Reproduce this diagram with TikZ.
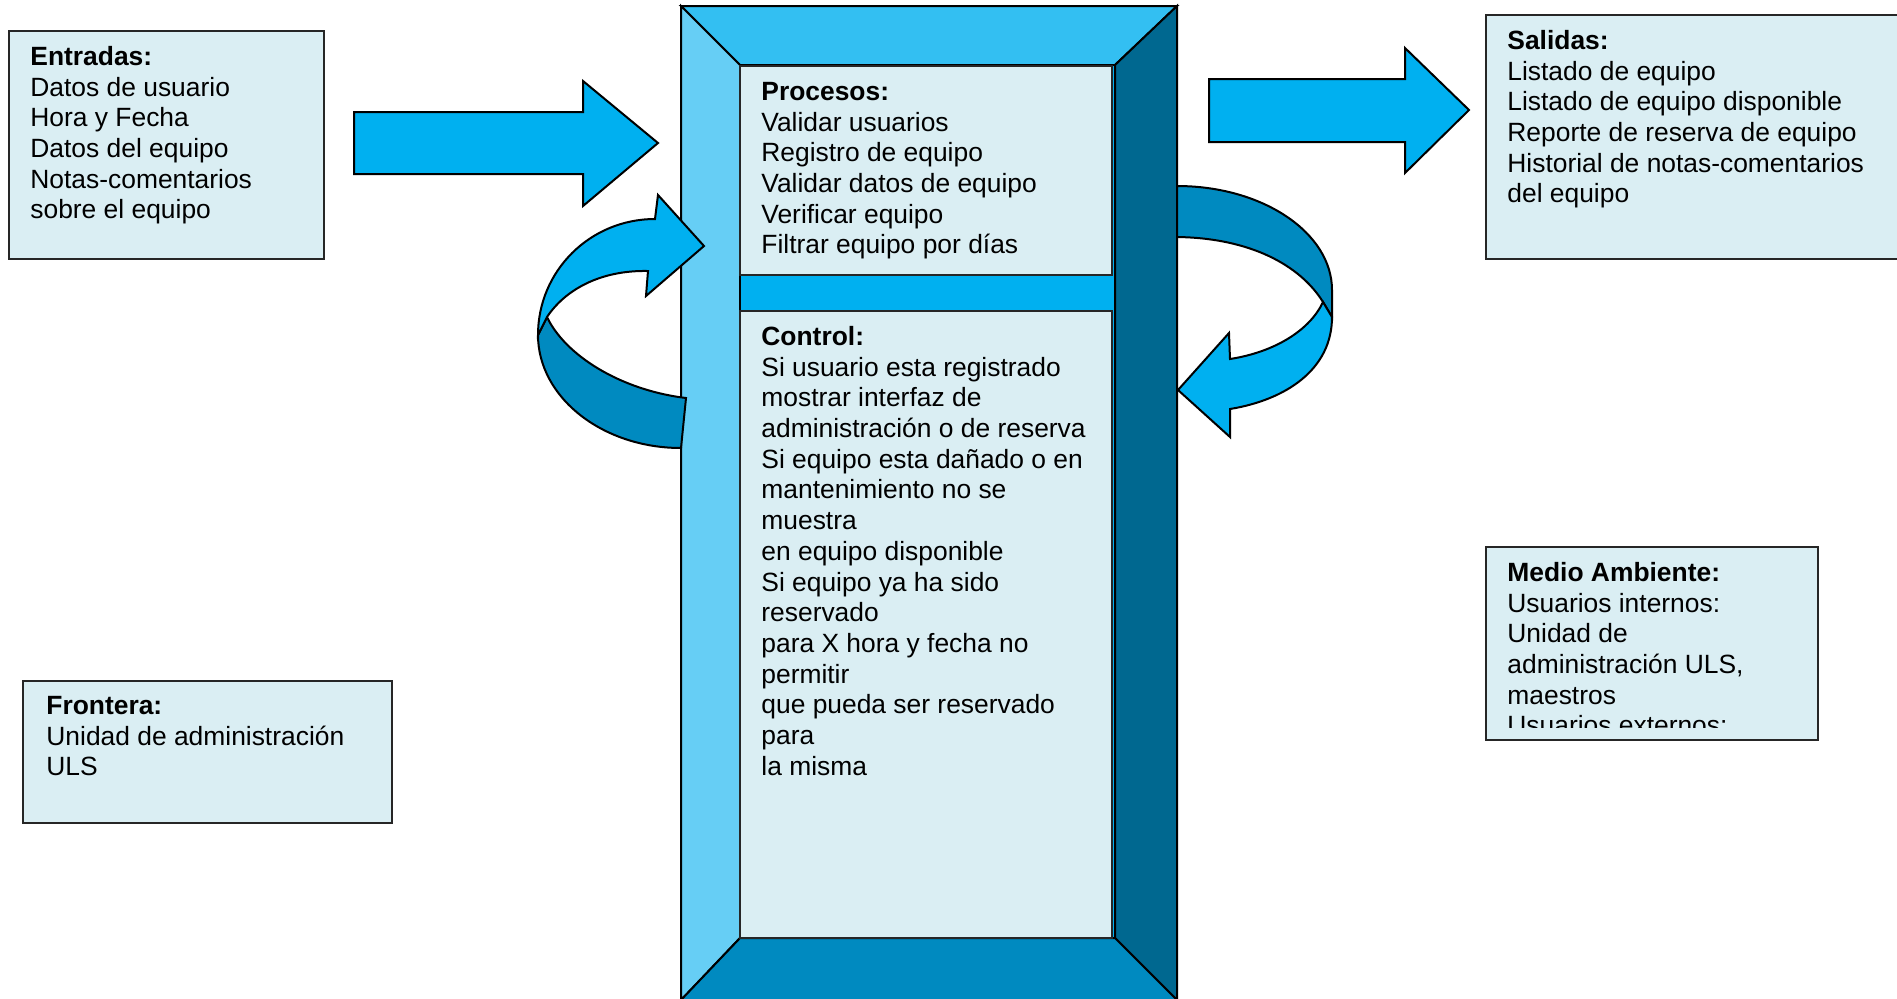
\documentclass[tikz,border=0pt]{standalone}
\usepackage{fontspec}
\setmainfont{Liberation Sans}
\definecolor{brt}{HTML}{00B0F0}
\definecolor{drk}{HTML}{008AC0}
\definecolor{topface}{HTML}{33BFF2}
\definecolor{leftface}{HTML}{66CEF5}
\definecolor{rightface}{HTML}{006890}
\definecolor{botface}{HTML}{008AC0}
\definecolor{boxfill}{HTML}{DAEEF3}
\begin{document}
\begin{tikzpicture}[x=0.5pt,y=-0.5pt,line join=miter,
  txt/.style={anchor=north west,inner sep=0pt,align=left,font=\fontsize{13.2}{15.35}\selectfont},
  boxst/.style={fill=boxfill,draw=black!85,line width=1pt},
  shp/.style={draw=black,line width=1pt}]
\useasboundingbox (0,0) rectangle (1897,998);
\fill[white] (0,0) rectangle (1897,998);

% central bevelled block
\path[shp,fill=topface] (681,6) -- (1177,6) -- (1115,65) -- (740,65) -- cycle;
\path[shp,fill=leftface] (681,6) -- (740,65) -- (740,938) -- (681,1000) -- cycle;
\path[shp,fill=rightface] (1177,6) -- (1177,1000) -- (1115,938) -- (1115,65) -- cycle;
\path[shp,fill=botface] (681,1000) -- (740,938) -- (1115,938) -- (1177,1000) -- cycle;
\path[shp,fill=brt] (740,65) rectangle (1115,938);

% inner text boxes
\draw[boxst] (740,66) rectangle (1112,275);
\draw[boxst] (740,311) rectangle (1112,938);
\node[txt] (procesos) at (761,78) {\rule{0pt}{11pt}\textbf{Procesos:}\\Validar usuarios\\Registro de equipo\\Validar datos de equipo\\Verificar equipo\\Filtrar equipo por días};
\node[txt] (control) at (761,323) {\rule{0pt}{11pt}\textbf{Control:}\\Si usuario esta registrado\\mostrar interfaz de\\administración o de reserva\\Si equipo esta dañado o en\\mantenimiento no se\\muestra\\en equipo disponible\\Si equipo ya ha sido\\reservado\\para X hora y fecha no\\permitir\\que pueda ser reservado\\para\\la misma};

% left circular arrow
\path[shp,fill=drk] (547,317) .. controls (565,355) and (620,390) .. (686,398) -- (681,448)
  .. controls (602,448) and (538,397) .. (538,335) -- cycle;
\path[shp,fill=brt] (655,219) -- (658,195) -- (704,246) -- (646,296) -- (648,271)
  .. controls (600,270) and (565,290) .. (547,317) -- (538,335)
  .. controls (538,271) and (590,219) .. (655,219) -- cycle;

% right circular arrow
\path[shp,fill=drk] (1177,186) .. controls (1263,186) and (1332,233) .. (1332,290) -- (1332,317) -- (1323,302)
  .. controls (1300,265) and (1250,238) .. (1177,237) -- cycle;
\path[shp,fill=brt] (1323,302) -- (1332,317)
  .. controls (1332,370) and (1285,400) .. (1230,409)
  -- (1230,437) -- (1178,390) -- (1229,333) -- (1230,359)
  .. controls (1275,352) and (1310,330) .. (1323,302) -- cycle;

% straight block arrows
\path[shp,fill=brt] (354,112) -- (583,112) -- (583,81) -- (658,143) -- (583,206) -- (583,174) -- (354,174) -- cycle;
\path[shp,fill=brt] (1209,79) -- (1405,79) -- (1405,48) -- (1469,110) -- (1405,173) -- (1405,142) -- (1209,142) -- cycle;

% Entradas
\draw[boxst] (9,31) rectangle (324,259);
\node[txt] (entradas) at (30,43) {\rule{0pt}{11pt}\textbf{Entradas:}\\Datos de usuario\\Hora y Fecha\\Datos del equipo\\Notas-comentarios\\sobre el equipo};

% Salidas
\draw[boxst] (1486,15) rectangle (1910,259);
\node[txt] (salidas) at (1507,27) {\rule{0pt}{11pt}\textbf{Salidas:}\\Listado de equipo\\Listado de equipo disponible\\Reporte de reserva de equipo\\Historial de notas-comentarios\\del equipo};

% Frontera
\draw[boxst] (23,681) rectangle (392,823);
\node[txt] (frontera) at (46,692) {\rule{0pt}{11pt}\textbf{Frontera:}\\Unidad de administración\\ULS};

% Medio Ambiente
\draw[boxst] (1486,547) rectangle (1818,740);
\begin{scope}
\clip (1488,549) rectangle (1816,727);
\node[txt] (medio) at (1507,559) {\rule{0pt}{11pt}\textbf{Medio Ambiente:}\\Usuarios internos:\\Unidad de\\administración ULS,\\maestros\\Usuarios externos:};
\end{scope}
\end{tikzpicture}
\end{document}
